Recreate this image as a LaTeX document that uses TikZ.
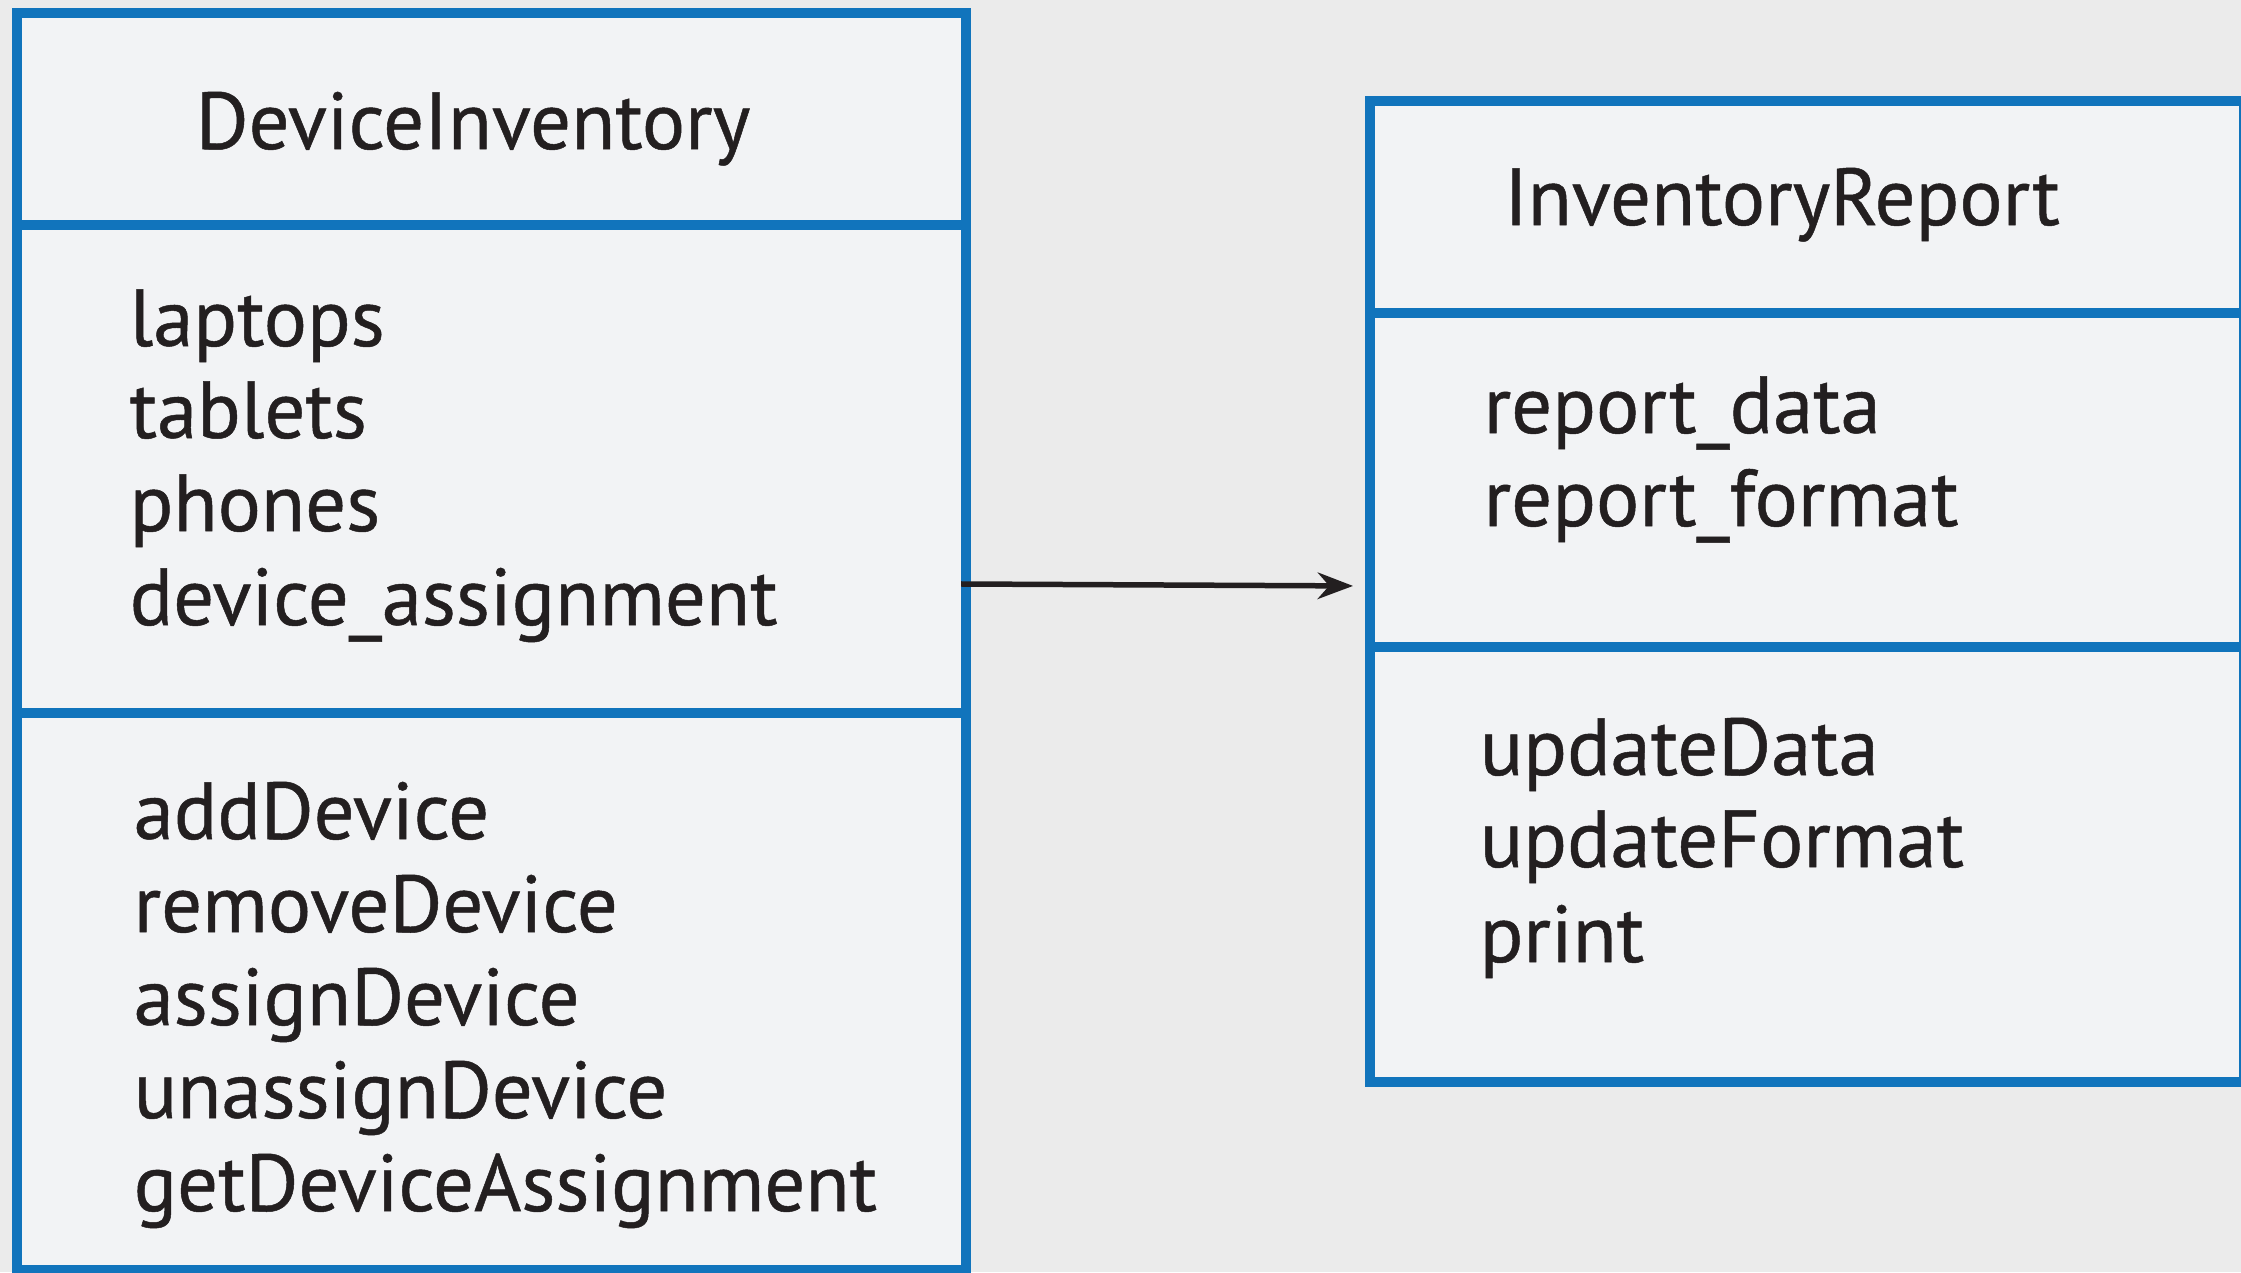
\documentclass[tikz,border=0pt]{standalone}
\usepackage{fontspec}
\setmainfont[FakeBold=0.6]{PT Sans}
\usetikzlibrary{arrows.meta}
\usetikzlibrary{positioning}

\definecolor{umlblue}{RGB}{17,116,188}
\definecolor{boxfill}{RGB}{242,243,245}
\definecolor{backgr}{RGB}{235,235,235}
\definecolor{ink}{RGB}{35,31,32}

\begin{document}
\begin{tikzpicture}[>=Stealth]
  \tikzset{compart/.style={draw=umlblue, line width=0.1cm, fill=boxfill, inner sep=0pt, outer sep=0pt, anchor=north west},
           member/.style={anchor=base west, inner sep=0pt, text=ink, font=\fontsize{23}{27}\selectfont},
           classname/.style={member, anchor=base},
           link/.style={->, draw=ink, line width=0.055cm, shorten <=-0.05cm, shorten >=0.17cm}}

  \fill[backgr] (0,0) rectangle (22.41,-12.72);
  \useasboundingbox (0,0) rectangle (22.41,-12.72);

  % DeviceInventory
  \node[compart, minimum width=9.49cm, minimum height=2.12cm] (inv) at (0.17,-0.13) {};
  \node[compart, minimum width=9.49cm, minimum height=4.88cm] (invattr) at (inv.south west) {};
  \node[compart, minimum width=9.49cm, minimum height=5.57cm] (invops) at (invattr.south west) {};

  \node[classname] (invname) at (4.73,-1.49) {DeviceInventory};
  \node[member] (laptops) at (1.29,-3.46) {laptops};
  \node[member] (tablets) at (1.29,-4.38) {tablets};
  \node[member] (phones)  at (1.29,-5.31) {phones};
  \node[member] (devassign) at (1.29,-6.25) {device\_assignment};
  \node[member] (adddev)   at (1.33,-8.39)  {addDevice};
  \node[member] (removedev) at (1.33,-9.32) {removeDevice};
  \node[member] (assigndev) at (1.33,-10.25) {assignDevice};
  \node[member] (unassigndev) at (1.33,-11.18) {unassignDevice};
  \node[member] (getassign) at (1.33,-12.11) {getDeviceAssignment};

  % InventoryReport
  \node[compart, minimum width=8.74cm, minimum height=2.12cm] (rep) at (13.70,-1.01) {};
  \node[compart, minimum width=8.74cm, minimum height=3.34cm] (repattr) at (rep.south west) {};
  \node[compart, minimum width=8.74cm, minimum height=4.35cm] (repops) at (repattr.south west) {};

  \node[classname] (repname) at (17.82,-2.25) {InventoryReport};
  \node[member] (repdata)   at (14.83,-4.33) {report\_data};
  \node[member] (repformat) at (14.83,-5.26) {report\_format};
  \node[member] (upddata)   at (14.79,-7.75) {updateData};
  \node[member] (updformat) at (14.79,-8.67) {updateFormat};
  \node[member] (print)     at (14.79,-9.62) {print};

  % association
  \draw[link] (invattr.east |- 0,-5.84) -- (repattr.west |- 0,-5.86);
\end{tikzpicture}
\end{document}
